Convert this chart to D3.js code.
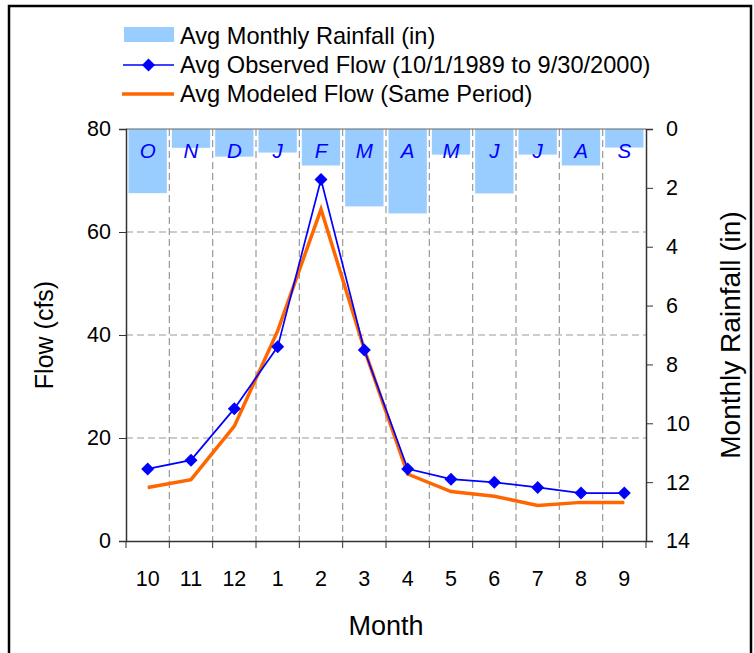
<!DOCTYPE html>
<html>
<head>
<meta charset="utf-8">
<script src="https://cdn.jsdelivr.net/npm/d3@7"></script>
<style>
  body { margin: 0; background: #fff; }
  svg text { font-family: "Liberation Sans", Arial, sans-serif; }
</style>
</head>
<body>
<div id="container"></div>
<script>
/* DATA */
const months = ["10", "11", "12", "1", "2", "3", "4", "5", "6", "7", "8", "9"];
const monthLetters = ["O", "N", "D", "J", "F", "M", "A", "M", "J", "J", "A", "S"];
const rainfall = [2.18, 0.64, 0.94, 0.8, 1.24, 2.63, 2.87, 0.87, 2.19, 0.87, 1.24, 0.63];
const observedFlow = [14.0, 15.7, 25.7, 37.7, 70.2, 37.1, 14.0, 12.0, 11.4, 10.4, 9.3, 9.3];
const modeledFlow = [10.4, 11.9, 22.3, 40.8, 64.4, 37.2, 13.0, 9.6, 8.7, 6.9, 7.5, 7.5];
const flowTicks = [0, 20, 40, 60, 80];
const rainTicks = [0, 2, 4, 6, 8, 10, 12, 14];

/* CONSTANTS */
const width = 754, height = 653;
const plotLeft = 126, plotRight = 646, plotTop = 129, plotBottom = 541;

const svg = d3.select("#container")
  .append("svg")
  .attr("width", width)
  .attr("height", height);

// outer frame
svg.append("rect")
  .attr("x", 9).attr("y", 6)
  .attr("width", 742).attr("height", 670)
  .attr("fill", "none")
  .attr("stroke", "#000")
  .attr("stroke-width", 2.5);

// SCALES
const x = d3.scaleBand().domain(months).range([plotLeft, plotRight]).padding(0);
const yFlow = d3.scaleLinear().domain([0, 80]).range([plotBottom, plotTop]);
const yRain = d3.scaleLinear().domain([0, 14]).range([plotTop, plotBottom]);

// gridlines
const grid = svg.append("g")
  .attr("stroke", "#999")
  .attr("stroke-width", 1.2)
  .attr("stroke-dasharray", "7,4");
grid.selectAll("line.v")
  .data(months.slice(1))
  .enter().append("line")
  .attr("x1", d => x(d)).attr("x2", d => x(d))
  .attr("y1", plotTop).attr("y2", plotBottom);
grid.selectAll("line.h")
  .data([20, 40, 60])
  .enter().append("line")
  .attr("x1", plotLeft).attr("x2", plotRight)
  .attr("y1", d => yFlow(d)).attr("y2", d => yFlow(d));

// rainfall bars hanging from the top
svg.selectAll("rect.bar")
  .data(rainfall)
  .enter().append("rect")
  .attr("class", "bar")
  .attr("x", (d, i) => x(months[i]) + 2.5)
  .attr("y", yRain(0))
  .attr("width", x.bandwidth() - 5)
  .attr("height", d => yRain(d) - yRain(0))
  .attr("fill", "#99ccff");

// month letters
svg.selectAll("text.letter")
  .data(monthLetters)
  .enter().append("text")
  .attr("x", (d, i) => x(months[i]) + x.bandwidth() / 2)
  .attr("y", 158)
  .attr("text-anchor", "middle")
  .attr("font-size", 20.5)
  .attr("font-style", "italic")
  .attr("fill", "#0000ff")
  .text(d => d);

// plot top border
svg.append("line")
  .attr("x1", plotLeft).attr("x2", plotRight)
  .attr("y1", plotTop).attr("y2", plotTop)
  .attr("stroke", "#666").attr("stroke-width", 1.2);

// AXES
const axisLeft = svg.append("g")
  .attr("transform", `translate(${plotLeft},0)`)
  .call(d3.axisLeft(yFlow).tickValues(flowTicks).tickSize(7).tickPadding(8));

const axisRight = svg.append("g")
  .attr("transform", `translate(${plotRight},0)`)
  .call(d3.axisRight(yRain).tickValues(rainTicks).tickSize(7).tickPadding(13));

const axisBottom = svg.append("g")
  .attr("transform", `translate(0,${plotBottom})`)
  .call(d3.axisBottom(x).tickSize(0).tickPadding(30));

// x tick marks at band edges
svg.append("g")
  .selectAll("line")
  .data(months.map(m => x(m)).concat([plotRight]))
  .enter().append("line")
  .attr("x1", d => d).attr("x2", d => d)
  .attr("y1", plotBottom).attr("y2", plotBottom + 7)
  .attr("stroke", "#333");

[axisLeft, axisRight, axisBottom].forEach(g => {
  g.select(".domain").attr("stroke", "#333").attr("stroke-width", 1.5);
  g.selectAll(".tick line").attr("stroke", "#333");
  g.selectAll(".tick text")
    .attr("font-size", 21.5)
    .attr("fill", "#000")
    .attr("font-family", "Liberation Sans, Arial, sans-serif");
});

// LINES
const cx = (d, i) => x(months[i]) + x.bandwidth() / 2;

svg.append("path")
  .datum(modeledFlow)
  .attr("fill", "none")
  .attr("stroke", "#ff6600")
  .attr("stroke-width", 3.5)
  .attr("stroke-linejoin", "miter")
  .attr("d", d3.line().x(cx).y(d => yFlow(d)));

svg.append("path")
  .datum(observedFlow)
  .attr("fill", "none")
  .attr("stroke", "#0000ff")
  .attr("stroke-width", 1.7)
  .attr("d", d3.line().x(cx).y(d => yFlow(d)));

const diamond = "M0,-6.5L6.5,0L0,6.5L-6.5,0Z";
svg.selectAll("path.pt")
  .data(observedFlow)
  .enter().append("path")
  .attr("class", "pt")
  .attr("transform", (d, i) => `translate(${cx(d, i)},${yFlow(d)})`)
  .attr("d", diamond)
  .attr("fill", "#0000ff");

// AXIS TITLES
svg.append("text")
  .attr("transform", `translate(53,${(plotTop + plotBottom) / 2}) rotate(-90)`)
  .attr("text-anchor", "middle")
  .attr("font-size", 25)
  .text("Flow (cfs)");

svg.append("text")
  .attr("transform", `translate(740,${(plotTop + plotBottom) / 2}) rotate(-90)`)
  .attr("text-anchor", "middle")
  .attr("font-size", 28)
  .text("Monthly Rainfall (in)");

svg.append("text")
  .attr("x", (plotLeft + plotRight) / 2)
  .attr("y", 635)
  .attr("text-anchor", "middle")
  .attr("font-size", 27)
  .text("Month");

// LEGEND
const legend = svg.append("g");
legend.append("rect")
  .attr("x", 124).attr("y", 27)
  .attr("width", 50).attr("height", 15)
  .attr("fill", "#99ccff");
legend.append("line")
  .attr("x1", 123).attr("x2", 174).attr("y1", 65).attr("y2", 65)
  .attr("stroke", "#0000ff").attr("stroke-width", 1.7);
legend.append("path")
  .attr("transform", "translate(148.5,65)")
  .attr("d", diamond)
  .attr("fill", "#0000ff");
legend.append("line")
  .attr("x1", 122).attr("x2", 174).attr("y1", 94).attr("y2", 94)
  .attr("stroke", "#ff6600").attr("stroke-width", 3.5);

const legendLabels = ["Avg Monthly Rainfall (in)",
  "Avg Observed Flow (10/1/1989 to 9/30/2000)",
  "Avg Modeled Flow (Same Period)"];
legend.selectAll("text")
  .data(legendLabels)
  .enter().append("text")
  .attr("x", 180)
  .attr("y", (d, i) => 43.5 + i * 29)
  .attr("font-size", 23.6)
  .text(d => d);
</script>
</body>
</html>
